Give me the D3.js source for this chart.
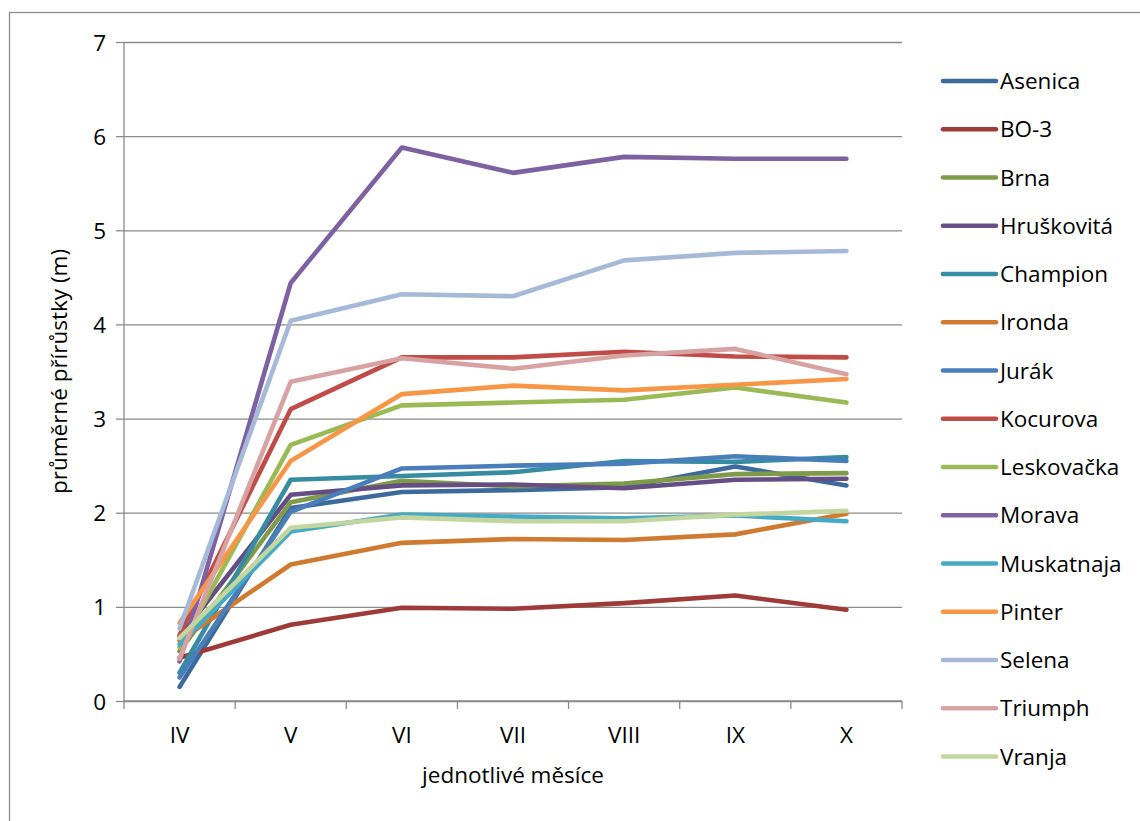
<!DOCTYPE html>
<html lang="cs">
<head>
<meta charset="utf-8">
<title>Průměrné přírůstky</title>
<script src="https://cdn.jsdelivr.net/npm/d3@7"></script>
<style>
  html, body { margin: 0; padding: 0; background: #fff; }
  svg { display: block; }
  text { font-family: "Open Sans", "Noto Sans", sans-serif; fill: #000; }
</style>
</head>
<body>
<svg id="chart" width="1140" height="821"></svg>
<script>
// Months (categories on the x axis)
const months = ["IV", "V", "VI", "VII", "VIII", "IX", "X"];

// Average growth per variety (m), one value per month
const asenica    = [0.15, 2.05, 2.22, 2.24, 2.27, 2.49, 2.29];
const bo3        = [0.46, 0.81, 0.99, 0.98, 1.04, 1.12, 0.97];
const brna       = [0.53, 2.11, 2.34, 2.28, 2.31, 2.41, 2.42];
const hruskovita = [0.68, 2.19, 2.29, 2.30, 2.26, 2.35, 2.36];
const champion   = [0.30, 2.35, 2.39, 2.43, 2.55, 2.54, 2.59];
const ironda     = [0.64, 1.45, 1.68, 1.72, 1.71, 1.77, 1.99];
const jurak      = [0.25, 2.01, 2.47, 2.50, 2.52, 2.60, 2.55];
const kocurova   = [0.70, 3.10, 3.65, 3.65, 3.71, 3.66, 3.65];
const leskovacka = [0.57, 2.72, 3.14, 3.17, 3.20, 3.33, 3.17];
const morava     = [0.42, 4.44, 5.88, 5.61, 5.78, 5.76, 5.76];
const muskatnaja = [0.60, 1.80, 1.98, 1.96, 1.94, 1.97, 1.91];
const pinter     = [0.83, 2.55, 3.26, 3.35, 3.30, 3.36, 3.42];
const selena     = [0.77, 4.04, 4.32, 4.30, 4.68, 4.76, 4.78];
const triumph    = [0.45, 3.39, 3.64, 3.53, 3.67, 3.74, 3.47];
const vranja     = [0.67, 1.84, 1.95, 1.91, 1.91, 1.98, 2.02];

// Y axis ticks
const yTicks = [0, 1, 2, 3, 4, 5, 6, 7];

const seriesNames = ["Asenica", "BO-3", "Brna", "Hruškovitá", "Champion", "Ironda", "Jurák",
  "Kocurova", "Leskovačka", "Morava", "Muskatnaja", "Pinter", "Selena", "Triumph", "Vranja"];
const seriesValues = [asenica, bo3, brna, hruskovita, champion, ironda, jurak,
  kocurova, leskovacka, morava, muskatnaja, pinter, selena, triumph, vranja];
const seriesColors = ["#3d6a9c", "#9e3b38", "#7f9a48", "#654e83", "#378ca2", "#cf7a31", "#4a7ebb",
  "#bf4c49", "#99ba55", "#7e61a1", "#47aac5", "#f79646", "#a6b9d7", "#d7a3a2", "#c3d69f"];

const series = seriesNames.map((name, i) => ({ name, values: seriesValues[i], color: seriesColors[i] }));

const svg = d3.select("#chart");
const plot = { left: 124, right: 902, top: 42, bottom: 701 };
const gridColor = "#8a8a8a";
const fontSize = 22.5;

// Outer chart frame
svg.append("rect")
  .attr("x", 9.5).attr("y", 12.5)
  .attr("width", 1160).attr("height", 840)
  .attr("fill", "none").attr("stroke", "#8e8e8e").attr("stroke-width", 1.3);

const x = d3.scalePoint().domain(months).range([plot.left, plot.right]).padding(0.5);
const y = d3.scaleLinear().domain([0, 7]).range([plot.bottom, plot.top]);

// Horizontal gridlines with ticks on the left
const yAxis = d3.axisLeft(y)
  .tickValues(yTicks)
  .tickSize(-(plot.right - plot.left))
  .tickSizeOuter(0)
  .tickFormat(d3.format("d"))
  .tickPadding(18);
const gy = svg.append("g").attr("transform", `translate(${plot.left},0)`).call(yAxis);
gy.select(".domain").remove();
gy.selectAll(".tick line").attr("stroke", gridColor).attr("stroke-width", 1.3);
gy.selectAll(".tick").append("line")
  .attr("x1", -8).attr("x2", 0)
  .attr("stroke", gridColor).attr("stroke-width", 1.3);
gy.selectAll(".tick text")
  .attr("font-size", fontSize)
  .attr("font-family", "'Open Sans', sans-serif")
  .attr("fill", "#000")
  .attr("dy", "0.36em");

// Vertical axis line
svg.append("line")
  .attr("x1", plot.left).attr("x2", plot.left)
  .attr("y1", plot.top).attr("y2", plot.bottom)
  .attr("stroke", gridColor).attr("stroke-width", 1.3);

// X axis: baseline, tick marks between categories, labels
const step = x.step();
const xBoundaries = d3.range(months.length + 1).map(i => plot.left + i * step);
svg.append("line")
  .attr("x1", plot.left).attr("x2", plot.right)
  .attr("y1", plot.bottom).attr("y2", plot.bottom)
  .attr("stroke", gridColor).attr("stroke-width", 1.3);
svg.append("g").selectAll("line").data(xBoundaries).join("line")
  .attr("x1", d => d).attr("x2", d => d)
  .attr("y1", plot.bottom).attr("y2", plot.bottom + 8)
  .attr("stroke", gridColor).attr("stroke-width", 1.3);
svg.append("g").selectAll("text").data(months).join("text")
  .attr("x", d => x(d))
  .attr("y", 743)
  .attr("text-anchor", "middle")
  .attr("font-size", fontSize)
  .text(d => d);

// Axis titles
svg.append("text")
  .attr("x", (plot.left + plot.right) / 2)
  .attr("y", 783)
  .attr("text-anchor", "middle")
  .attr("font-size", fontSize)
  .text("jednotlivé měsíce");
svg.append("text")
  .attr("transform", `translate(67,${(plot.top + plot.bottom) / 2}) rotate(-90)`)
  .attr("text-anchor", "middle")
  .attr("font-size", fontSize)
  .text("průměrné přírůstky (m)");

// Series lines
const line = d3.line()
  .x((d, i) => x(months[i]))
  .y(d => y(d));
svg.append("g").selectAll("path").data(series).join("path")
  .attr("d", d => line(d.values))
  .attr("fill", "none")
  .attr("stroke", d => d.color)
  .attr("stroke-width", 4.6)
  .attr("stroke-linejoin", "round")
  .attr("stroke-linecap", "round");

// Legend
const legendTop = 81, legendStep = 48.25;
const legend = svg.append("g").selectAll("g").data(series).join("g")
  .attr("transform", (d, i) => `translate(0,${legendTop + i * legendStep})`);
legend.append("line")
  .attr("x1", 943).attr("x2", 996)
  .attr("stroke", d => d.color)
  .attr("stroke-width", 4.6)
  .attr("stroke-linecap", "round");
legend.append("text")
  .attr("x", 1000)
  .attr("y", 8)
  .attr("font-size", fontSize)
  .text(d => d.name);
</script>
</body>
</html>
